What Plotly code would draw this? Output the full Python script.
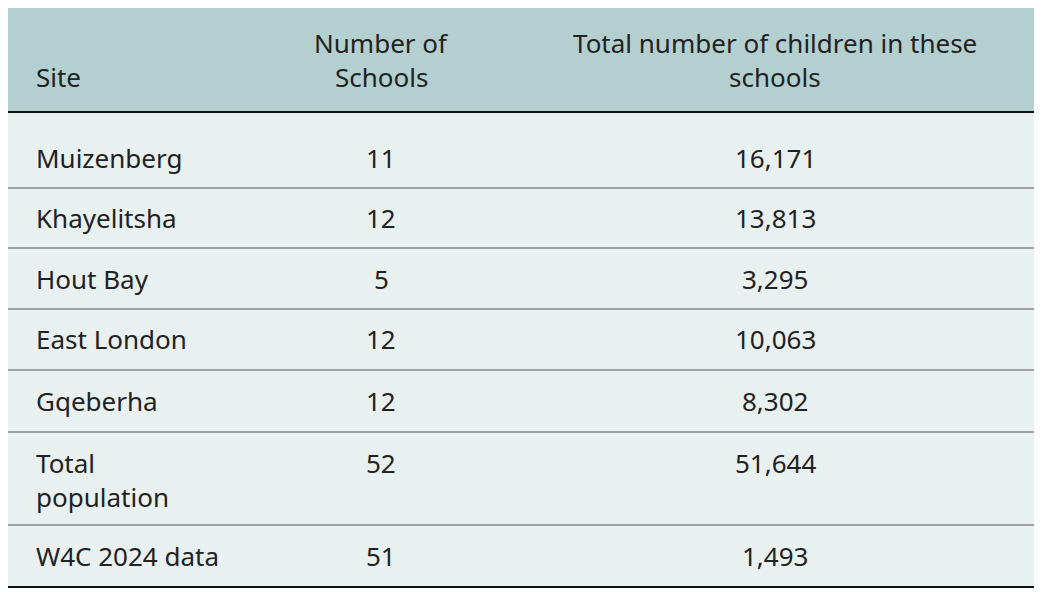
import plotly.graph_objects as go

sites = ["Muizenberg", "Khayelitsha", "Hout Bay", "East London", "Gqeberha",
         "Total\npopulation", "W4C 2024 data"]
schools = ["11", "12", "5", "12", "12", "52", "51"]
children = ["16,171", "13,813", "3,295", "10,063", "8,302", "51,644", "1,493"]
headers = ["Site", "Number of\nSchools", "Total number of children in these\nschools"]

# page body has an 8px margin, so work in page pixels and shift
OFF = 8
W, H = 1042 - OFF, 592 - OFF
header_top, header_bottom = 4, 112
row_bottoms = [188, 248, 309, 370, 432, 525, 587]
first_line = [46, 30, 31, 30, 31, 31, 31]  # text centre below row top
col_x = [34, 381, 775]
col_anchor = ["left", "center", "center"]
line_gap = 34
font = dict(family="Noto Sans", size=26, color="#222222")

fig = go.Figure()
shapes = []
annotations = []

shapes.append(dict(type="rect", x0=-OFF, x1=1042, y0=header_top, y1=header_bottom,
                   fillcolor="#b3cfd0", line_width=0, layer="below"))
shapes.append(dict(type="rect", x0=-OFF, x1=1042, y0=header_bottom, y1=row_bottoms[-1],
                   fillcolor="#e9f0f0", line_width=0, layer="below"))


def add_text(text, x, anchor, y_first):
    for k, part in enumerate(text.split("\n")):
        annotations.append(dict(text=part, x=x, y=y_first + k * line_gap,
                                xref="x", yref="y", xanchor=anchor,
                                yanchor="middle", showarrow=False, font=font))


for j, h in enumerate(headers):
    n = len(h.split("\n"))
    add_text(h, col_x[j], col_anchor[j], 77 - (n - 1) * line_gap)

tops = [header_bottom] + row_bottoms[:-1]
for i in range(len(sites)):
    yc = tops[i] + first_line[i]
    for j, val in enumerate([sites[i], schools[i], children[i]]):
        add_text(val, col_x[j], col_anchor[j], yc)
    last = i == len(sites) - 1
    shapes.append(dict(type="line", x0=-OFF, x1=1042, y0=row_bottoms[i], y1=row_bottoms[i],
                       line=dict(color="#111111" if last else "#555555",
                                 width=2 if last else 1)))

for y in [header_top, header_bottom]:
    shapes.append(dict(type="line", x0=-OFF, x1=1042, y0=y, y1=y,
                       line=dict(color="#111111", width=2)))

fig.update_layout(
    width=W, height=H, margin=dict(l=0, r=0, t=0, b=0),
    paper_bgcolor="white", plot_bgcolor="white",
    xaxis=dict(range=[OFF, 1042], visible=False, fixedrange=True),
    yaxis=dict(range=[592, OFF], visible=False, fixedrange=True),
    shapes=shapes, annotations=annotations, showlegend=False,
)

fig.write_html("out.html")
